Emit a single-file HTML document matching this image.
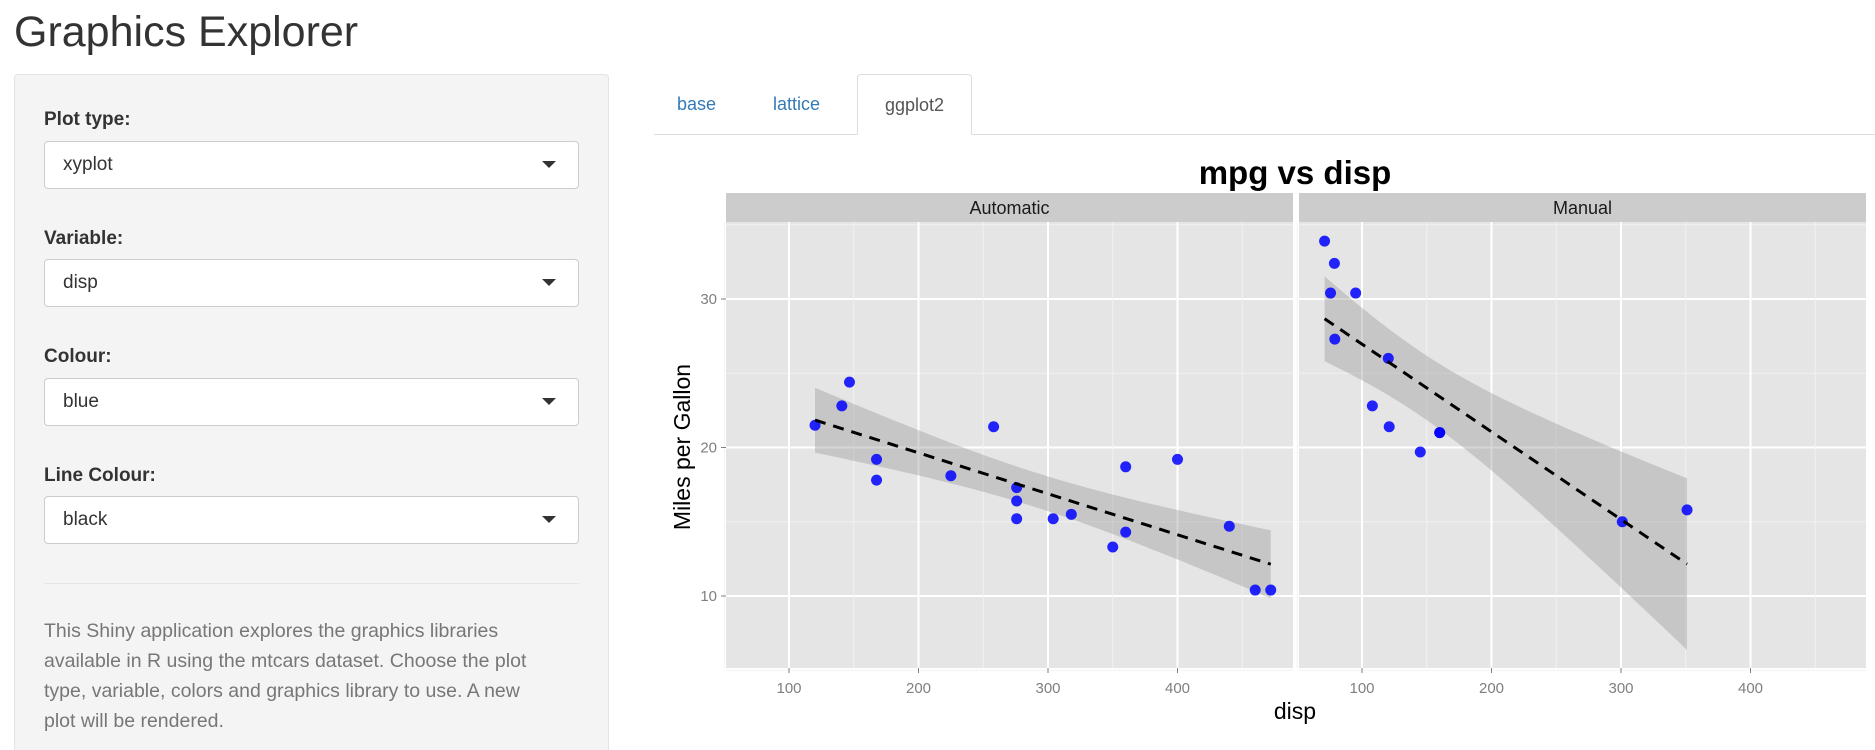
<!DOCTYPE html>
<html><head><meta charset="utf-8"><style>
html{overflow:hidden;height:750px}
body{margin:0;width:1875px;height:750px;overflow:hidden;background:#fff;font-family:"Liberation Sans",sans-serif;color:#333;position:relative}
h1{position:absolute;left:14px;top:8px;margin:0;font-weight:normal;font-size:43px;color:#333}
.panel{position:absolute;left:14px;top:74px;width:595px;height:680px;background:#f4f4f4;border:1px solid #e3e3e3;border-bottom:0;border-radius:4px 4px 0 0;box-sizing:border-box}
.lab{position:absolute;left:44px;font-weight:bold;font-size:19px;color:#333}
.sel{position:absolute;left:44px;width:535px;height:48px;background:#fff;border:1px solid #ccc;border-radius:4px;box-sizing:border-box;font-size:19px;line-height:46px;padding-left:18px}
.sel:after{content:"";position:absolute;right:22px;top:19px;border-left:7px solid transparent;border-right:7px solid transparent;border-top:7px solid #333}
hr{position:absolute;left:44px;width:535px;top:583px;margin:0;border:0;border-top:1px solid #e5e5e5}
.desc{position:absolute;left:44px;top:616px;width:500px;font-size:19.5px;line-height:30px;color:#777}
.tab{position:absolute;top:74px;height:60px;line-height:60px;font-size:18px;color:#337ab7}
</style></head><body>
<h1>Graphics Explorer</h1>
<div class="panel"></div>
<div class="lab" style="top:109px">Plot type:</div>
<div class="sel" style="top:141px">xyplot</div>
<div class="lab" style="top:228px">Variable:</div>
<div class="sel" style="top:259px">disp</div>
<div class="lab" style="top:346px">Colour:</div>
<div class="sel" style="top:378px">blue</div>
<div class="lab" style="top:465px">Line Colour:</div>
<div class="sel" style="top:496px">black</div>
<hr>
<div class="desc">This Shiny application explores the graphics libraries available in R using the mtcars dataset. Choose the plot type, variable, colors and graphics library to use. A new plot will be rendered.</div>
<div style="position:absolute;left:654px;top:134px;width:1221px;border-top:1px solid #ddd"></div>
<div class="tab" style="left:677px">base</div>
<div class="tab" style="left:773px">lattice</div>
<div class="tab" style="left:857px;width:115px;box-sizing:border-box;border:1px solid #ddd;border-bottom:1px solid #fff;border-radius:4px 4px 0 0;background:#fff;color:#555;text-align:center;height:61px">ggplot2</div>
<svg id="chart" width="1875" height="750" style="position:absolute;left:0;top:0"></svg>
<script>
const autoDisp=[258,360,225,360,146.7,140.8,167.6,167.6,275.8,275.8,275.8,472,460,440,120.1,318,304,350,400];
const autoMpg=[21.4,18.7,18.1,14.3,24.4,22.8,19.2,17.8,16.4,17.3,15.2,10.4,10.4,14.7,21.5,15.5,15.2,13.3,19.2];
const manDisp=[160,160,108,78.7,75.7,71.1,79,120.3,95.1,351,145,301,121];
const manMpg=[21,21,22.8,32.4,30.4,33.9,27.3,26,30.4,15.8,19.7,15,21.4];
const facetNames=["Automatic","Manual"];
const xTicks=[100,200,300,400];
const yTicks=[10,20,30];
const tCrit=[2.110,2.201];
(function(){
const NS="http://www.w3.org/2000/svg";
const svg=document.getElementById('chart');
function mk(t,a,p){const e=document.createElementNS(NS,t);for(const k in a)e.setAttribute(k,a[k]);(p||svg).appendChild(e);return e;}
const yPx=v=>596-(v-10)*14.85;
const panelL=[726,1299],panelW=567,pTop=222,pBot=668;
const xPx=(i,d)=>panelL[i]+63+(d-100)*1.295;
const sets=[[autoDisp,autoMpg],[manDisp,manMpg]];
for(let i=0;i<2;i++){
 const L=panelL[i];
 const g=mk('g',{});
 
 
 const s=mk('rect',{x:L,y:193,width:panelW,height:29,fill:'#cccccc'},g);
 
 
 const st=mk('text',{x:L+panelW/2,y:214,'text-anchor':'middle','font-size':18,fill:'#1a1a1a'},g);st.textContent=facetNames[i];
 
 
 mk('rect',{x:L,y:pTop,width:panelW,height:pBot-pTop,fill:'#e5e5e5'},g);
 for(let v=5;v<=35;v+=5){const major=yTicks.includes(v);mk('line',{x1:L,x2:L+panelW,y1:yPx(v),y2:yPx(v),stroke:major?'#fff':'#f2f2f2','stroke-width':major?2:1},g);}
 for(let d=50;d<=450;d+=50){const major=xTicks.includes(d);mk('line',{x1:xPx(i,d),x2:xPx(i,d),y1:pTop,y2:pBot,stroke:major?'#fff':'#f2f2f2','stroke-width':major?2:1},g);}
 xTicks.forEach(d=>{mk('line',{x1:xPx(i,d),x2:xPx(i,d),y1:pBot,y2:pBot+5,stroke:'#7f7f7f'},g);
  const tl=mk('text',{x:xPx(i,d),y:693,'text-anchor':'middle','font-size':15,fill:'#7f7f7f'},g);tl.textContent=d;
  
  });
 const [X,Y]=sets[i];const n=X.length;
 const mx=X.reduce((a,b)=>a+b)/n,my=Y.reduce((a,b)=>a+b)/n;
 let sxx=0,sxy=0;X.forEach((x,k)=>{sxx+=(x-mx)**2;sxy+=(x-mx)*(Y[k]-my);});
 const b=sxy/sxx,a=my-b*mx;let sse=0;X.forEach((x,k)=>{sse+=(Y[k]-a-b*x)**2;});
 const sd=Math.sqrt(sse/(n-2));
 const x0=Math.min(...X),x1=Math.max(...X);
 const up=[],lo=[];
 for(let k=0;k<=60;k++){const x=x0+(x1-x0)*k/60;const f=a+b*x;const se=sd*Math.sqrt(1/n+(x-mx)**2/sxx);
  up.push(xPx(i,x).toFixed(1)+','+yPx(f+tCrit[i]*se).toFixed(1));lo.unshift(xPx(i,x).toFixed(1)+','+yPx(f-tCrit[i]*se).toFixed(1));}
 const band=mk('polygon',{points:up.concat(lo).join(' '),fill:'#999','fill-opacity':0.4},g);
 
 
 X.forEach((x,k)=>{const c=mk('circle',{cx:xPx(i,x),cy:yPx(Y[k]),r:5.5,fill:'#0000ff','fill-opacity':0.85},g);
  
  });
 const ln=mk('line',{x1:xPx(i,x0),y1:yPx(a+b*x0),x2:xPx(i,x1),y2:yPx(a+b*x1),stroke:'#000','stroke-width':3,'stroke-dasharray':'11,8'},g);
 
 
}
let t=mk('text',{x:1295,y:184,'text-anchor':'middle','font-size':33,'font-weight':'bold',fill:'#000'});t.textContent='mpg vs disp';


yTicks.forEach(v=>{mk('line',{x1:721,x2:726,y1:yPx(v),y2:yPx(v),stroke:'#7f7f7f'});
 const tl=mk('text',{x:717,y:yPx(v)+5,'text-anchor':'end','font-size':15,fill:'#7f7f7f'});tl.textContent=v;
 
 });
t=mk('text',{x:1295,y:719,'text-anchor':'middle','font-size':23,fill:'#000'});t.textContent='disp';


t=mk('text',{x:690,y:447,'text-anchor':'middle','font-size':23,fill:'#000',transform:'rotate(-90 690 447)'});t.textContent='Miles per Gallon';


})();
</script>
</body></html>
